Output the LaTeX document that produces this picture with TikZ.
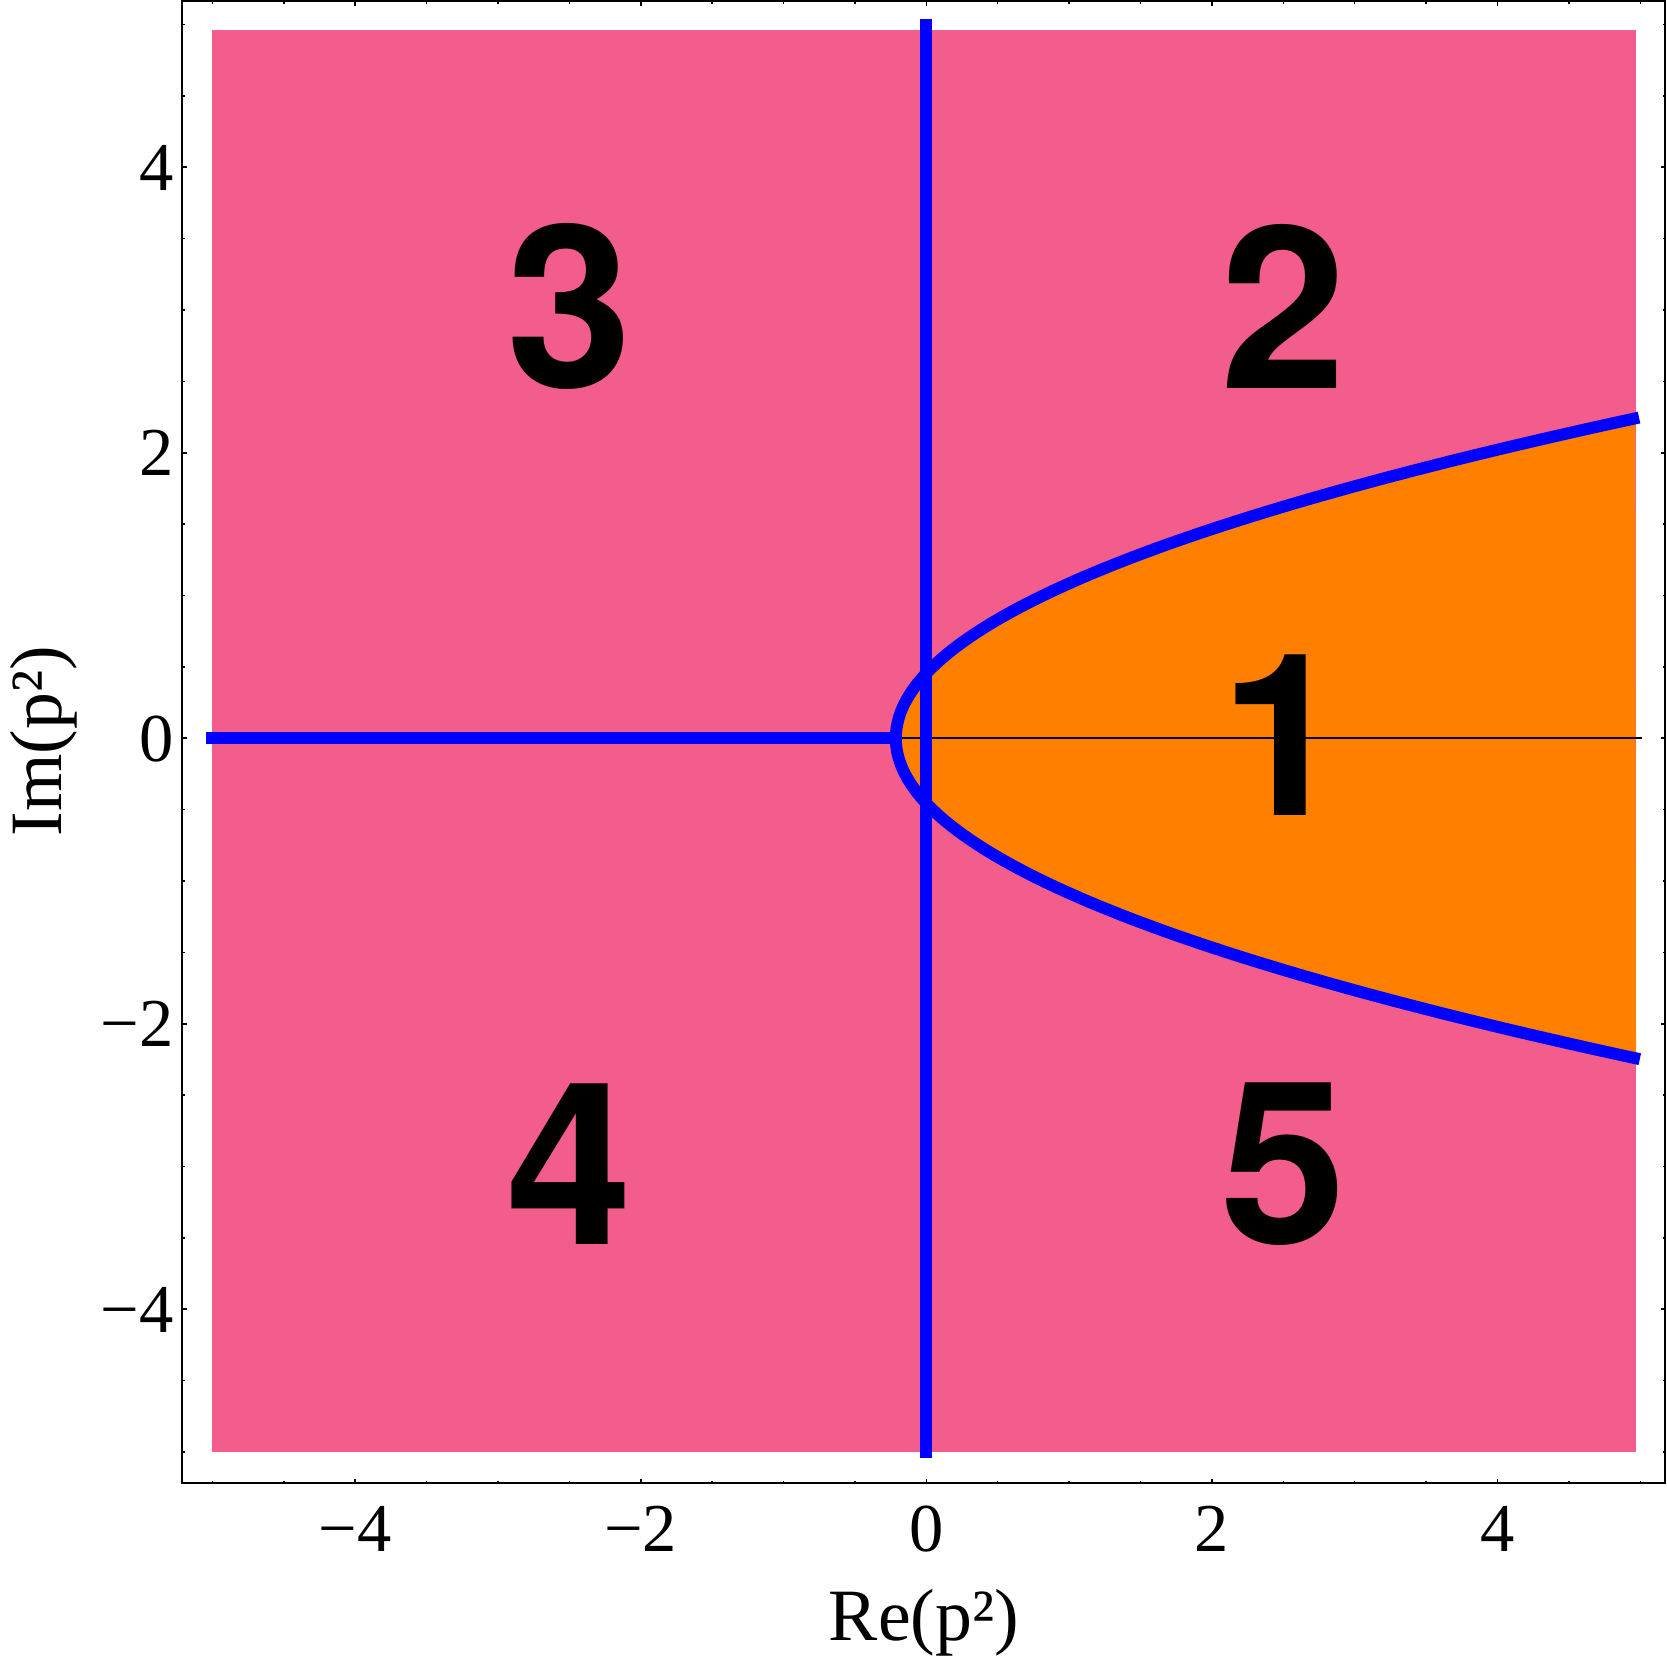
\documentclass[tikz,border=0pt]{standalone}
\usepackage{fontspec}
\setmainfont{Liberation Serif}
\newfontfamily\bigsans{TeX Gyre Heros}
\definecolor{pinkreg}{RGB}{243,93,139}
\definecolor{orangereg}{RGB}{255,128,0}
\definecolor{curveblue}{RGB}{0,0,255}
\begin{document}
\begin{tikzpicture}[x=1.428cm,y=1.4275cm,
  ticklbl/.style={font=\fontsize{19.5}{19.5}\selectfont, inner sep=0pt},
  axislbl/.style={font=\fontsize{21}{21}\selectfont, inner sep=0pt},
  regionlbl/.style={font=\bigsans\bfseries\fontsize{64.5}{64.5}\selectfont, inner sep=0pt},
  blueline/.style={draw=curveblue, line width=3.4pt},
  axisline/.style={draw=black, line width=0.5pt},
  framebox/.style={draw=black, line width=0.6pt},
  tickline/.style={draw=black, line width=0.45pt}]
\useasboundingbox (-6.487,-6.471) rectangle (5.187,5.172);
% regions
\fill[pinkreg] (-5,-5) rectangle (4.97,4.96);
\fill[orangereg] plot[domain=-2.2423:2.2423, samples=120, smooth, variable=\t] ({1.031*\t*\t-0.2136},\t) -- cycle;
% axes
\draw[axisline] (-5,0) -- (5.01,0);
\draw[axisline] (0,-5) -- (0,5);
% blue boundary lines
\draw[blueline, line cap=rect] (0,-5) -- (0,5);
\draw[blueline, line cap=rect] (-5,0) -- (-0.2136,0);
\draw[blueline] plot[domain=-2.248:2.248, samples=150, smooth, variable=\t] ({1.031*\t*\t-0.2136},\t);
% frame
\draw[framebox] (-5.21,-5.219) rectangle (5.175,5.165);
\foreach \t in {-4,-2,0,2,4} {
  \draw[tickline] (\t,-5.219) -- ++(0,0.033);
  \draw[tickline] (\t,5.165) -- ++(0,-0.033);
  \draw[tickline] (-5.21,\t) -- ++(0.033,0);
  \draw[tickline] (5.175,\t) -- ++(-0.033,0);
}
\foreach \t in {-5,-4.5,-3.5,-3,-2.5,-1.5,-1,-0.5,0.5,1,1.5,2.5,3,3.5,4.5,5} {
  \draw[tickline] (\t,-5.219) -- ++(0,0.019);
  \draw[tickline] (\t,5.165) -- ++(0,-0.019);
  \draw[tickline] (-5.21,\t) -- ++(0.019,0);
  \draw[tickline] (5.175,\t) -- ++(-0.019,0);
}
% tick labels
\foreach \v/\s/\n in {-4/−4/a,-2/−2/b,0/0/c,2/2/d,4/4/e} {
  \node[ticklbl, anchor=base] (xl\n) at (\v,-5.698) {\s};
  \node[ticklbl, anchor=base east] (yl\n) at (-5.266,\v-0.16) {\s};
}
% axis labels
\node[axislbl, anchor=base] (xlabel) at (-0.017,-6.317) {Re(p²)};
\node[axislbl, anchor=base, rotate=90] (ylabel) at (-6.055,-0.019) {Im(p²)};
% region labels
\node[regionlbl] (r1) at (2.5,0.022) {1};
\node[regionlbl] (r2) at (2.5,3.022) {2};
\node[regionlbl] (r3) at (-2.5,3.022) {3};
\node[regionlbl] (r4) at (-2.5,-2.98) {4};
\node[regionlbl] (r5) at (2.5,-2.985) {5};
\end{tikzpicture}
\end{document}
